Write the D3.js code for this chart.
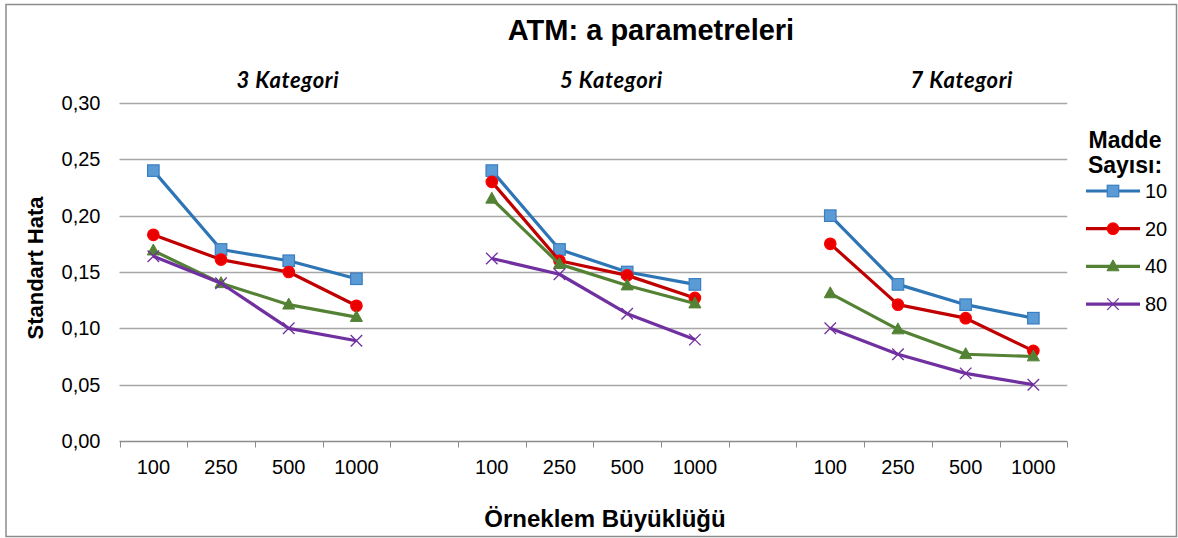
<!DOCTYPE html>
<html>
<head>
<meta charset="utf-8">
<script src="https://cdn.jsdelivr.net/npm/d3@7"></script>
<style>
  html, body { margin: 0; padding: 0; background: #fff; }
  svg { display: block; }
  text { font-family: "Liberation Sans", Arial, sans-serif; fill: #000; }
</style>
</head>
<body>
<svg id="chart" width="1178" height="538"></svg>
<script>
// ---------- data ----------
const chartTitle = "ATM: a parametreleri";
const yAxisTitle = "Standart Hata";
const xAxisTitle = "Örneklem Büyüklüğü";
const legendTitle = ["Madde", "Sayısı:"];
const groups = ["3 Kategori", "5 Kategori", "7 Kategori"];
const sampleSizes = ["100", "250", "500", "1000"];
const yTicks = [0, 0.05, 0.10, 0.15, 0.20, 0.25, 0.30];
const seriesNames = ["10", "20", "40", "80"];
// values per group (3 / 5 / 7 Kategori), each over sampleSizes
const s10 = [[0.240, 0.170, 0.160, 0.144], [0.240, 0.170, 0.150, 0.139], [0.200, 0.139, 0.121, 0.109]];
const s20 = [[0.183, 0.161, 0.150, 0.120], [0.230, 0.160, 0.147, 0.127], [0.175, 0.121, 0.109, 0.080]];
const s40 = [[0.169, 0.140, 0.121, 0.110], [0.215, 0.157, 0.138, 0.122], [0.131, 0.099, 0.077, 0.075]];
const s80 = [[0.164, 0.140, 0.100, 0.089], [0.162, 0.148, 0.113, 0.090], [0.100, 0.077, 0.060, 0.050]];

// ---------- build slots: group categories separated by one empty slot ----------
const slots = [];
groups.forEach((g, gi) => {
  sampleSizes.forEach((s, si) => slots.push({ key: gi + "-" + si, label: s, gi, si }));
  if (gi < groups.length - 1) slots.push({ key: "gap" + gi, label: "", gi: -1, si: -1 });
});
const seriesData = [s10, s20, s40, s80];
const styles = [
  { line: "#2E75B6", fill: "#5B9BD5", stroke: "#3A7DC0", shape: "square" },
  { line: "#C00000", fill: "#E80000", stroke: "#FF0000", shape: "circle" },
  { line: "#548235", fill: "#548235", stroke: "#548235", shape: "triangle" },
  { line: "#7030A0", fill: "none", stroke: "#7030A0", shape: "cross" }
];

// ---------- layout ----------
const svg = d3.select("#chart");
const plot = { left: 119.5, right: 1067.2, top: 103, bottom: 441 };

const x = d3.scaleBand().domain(slots.map(d => d.key)).range([plot.left, plot.right]).paddingInner(0).paddingOuter(0);
const y = d3.scaleLinear().domain([0, 0.30]).range([plot.bottom, plot.top]);
const fmt = d3.formatLocale({ decimal: ",", thousands: ".", grouping: [3], currency: ["", ""] }).format(".2f");

// outer border
svg.append("rect").attr("x", 6).attr("y", 4.5).attr("width", 1170.5).attr("height", 532)
  .attr("fill", "#fff").attr("stroke", "#8c8c8c").attr("stroke-width", 1.5);

// gridlines
svg.append("g").selectAll("line").data(yTicks.filter(t => t > 0)).join("line")
  .attr("x1", plot.left).attr("x2", plot.right)
  .attr("y1", d => Math.round(y(d)) + 0.5).attr("y2", d => Math.round(y(d)) + 0.5)
  .attr("stroke", "#a6a6a6").attr("stroke-width", 1.5);

// y axis labels
const yAxis = d3.axisLeft(y).tickValues(yTicks).tickFormat(fmt).tickSize(0).tickPadding(19);
const gy = svg.append("g").attr("transform", `translate(${plot.left},0)`).call(yAxis);
gy.select(".domain").remove();
gy.selectAll("text").style("font-family", "Liberation Sans, Arial, sans-serif").style("font-size", "20px").attr("fill", "#000");

// x axis
const gx = svg.append("g").attr("transform", `translate(0,${Math.round(plot.bottom) + 0.5})`);
gx.append("line").attr("x1", plot.left).attr("x2", plot.right).attr("stroke", "#8c8c8c").attr("stroke-width", 1.5);
const boundaries = slots.map(d => x(d.key)).concat([x(slots[slots.length - 1].key) + x.bandwidth()]);
gx.selectAll("line.tick").data(boundaries).join("line").attr("class", "tick")
  .attr("x1", d => Math.round(d) + 0.5).attr("x2", d => Math.round(d) + 0.5)
  .attr("y1", 0).attr("y2", 6).attr("stroke", "#8c8c8c").attr("stroke-width", 1);
gx.selectAll("text").data(slots.filter(d => d.label)).join("text")
  .attr("x", d => x(d.key) + x.bandwidth() / 2).attr("y", 32)
  .attr("text-anchor", "middle").style("font-size", "20px").text(d => d.label);

// titles
svg.append("text").attr("x", 651).attr("y", 40).attr("text-anchor", "middle")
  .style("font-size", "29px").style("font-weight", "bold").text(chartTitle);
svg.append("text").attr("x", 605).attr("y", 527).attr("text-anchor", "middle")
  .style("font-size", "24px").style("font-weight", "bold").text(xAxisTitle);
svg.append("text").attr("transform", "translate(43,268) rotate(-90)").attr("text-anchor", "middle")
  .style("font-size", "22px").style("font-weight", "bold").text(yAxisTitle);

// group subtitles
const subOffsets = [33, 18, 30];
svg.append("g").selectAll("text").data(groups).join("text")
  .attr("x", (g, gi) => (x(gi + "-0") + x(gi + "-3") + x.bandwidth()) / 2 + subOffsets[gi])
  .attr("y", 88).attr("text-anchor", "middle")
  .style("font-family", "Lato, 'Open Sans', sans-serif")
  .style("font-size", "22px").style("font-weight", "bold").style("font-style", "italic")
  .style("letter-spacing", "0.6px")
  .text(g => g);

// marker drawer
function drawMarker(sel, st, size) {
  if (st.shape === "square") {
    sel.append("rect").attr("x", -size / 2).attr("y", -size / 2).attr("width", size).attr("height", size)
      .attr("fill", st.fill).attr("stroke", st.stroke).attr("stroke-width", 1.2);
  } else if (st.shape === "circle") {
    sel.append("circle").attr("r", size / 2).attr("fill", st.fill).attr("stroke", st.stroke).attr("stroke-width", 1.2);
  } else if (st.shape === "triangle") {
    const h = size * 0.95, w = size * 1.05;
    sel.append("path").attr("d", `M0,${-h * 0.6}L${w / 2},${h * 0.4}L${-w / 2},${h * 0.4}Z`)
      .attr("fill", st.fill).attr("stroke", st.stroke).attr("stroke-width", 1);
  } else {
    const r = size * 0.5;
    sel.append("path").attr("d", `M${-r},${-r}L${r},${r}M${-r},${r}L${r},${-r}`)
      .attr("fill", "none").attr("stroke", st.stroke).attr("stroke-width", 1.3);
  }
}

// series
const line = d3.line().x(d => d.x).y(d => d.y);
seriesData.forEach((sd, k) => {
  const st = styles[k];
  const g = svg.append("g");
  sd.forEach((vals, gi) => {
    const pts = vals.map((v, si) => ({ x: x(gi + "-" + si) + x.bandwidth() / 2, y: y(v) }));
    g.append("path").attr("d", line(pts)).attr("fill", "none")
      .attr("stroke", st.line).attr("stroke-width", 3.2).attr("stroke-linejoin", "round");
    pts.forEach(p => {
      const m = g.append("g").attr("transform", `translate(${p.x},${p.y})`);
      drawMarker(m, st, 11.5);
    });
  });
});

// legend
const lg = svg.append("g");
lg.append("text").attr("x", 1125).attr("y", 148).attr("text-anchor", "middle")
  .style("font-size", "23px").style("font-weight", "bold").text(legendTitle[0]);
lg.append("text").attr("x", 1125).attr("y", 173).attr("text-anchor", "middle")
  .style("font-size", "23px").style("font-weight", "bold").text(legendTitle[1]);
seriesNames.forEach((n, k) => {
  const st = styles[k];
  const yy = 191 + k * 37.7;
  lg.append("line").attr("x1", 1086).attr("x2", 1140).attr("y1", yy).attr("y2", yy)
    .attr("stroke", st.line).attr("stroke-width", 3.2);
  drawMarker(lg.append("g").attr("transform", `translate(1113,${yy})`), st, 11.5);
  lg.append("text").attr("x", 1145).attr("y", yy).attr("dy", "0.35em")
    .style("font-size", "20px").text(n);
});
</script>
</body>
</html>
